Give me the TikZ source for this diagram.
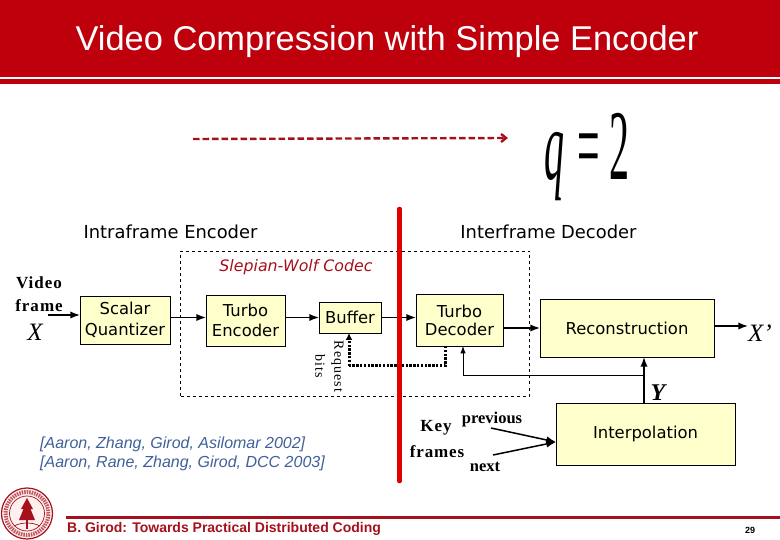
\documentclass[tikz,border=0pt]{standalone}
\usepackage{fontspec}
\setmainfont{Liberation Serif}
\setsansfont{Liberation Sans}
\newfontfamily\boxfont{DejaVu Sans}
\usepackage{xcolor}
\usetikzlibrary{arrows.meta, positioning}
\definecolor{headred}{HTML}{BE000C}
\definecolor{darkred}{HTML}{A5101C}
\definecolor{boxyellow}{HTML}{FFFFCC}
\definecolor{citeblue}{HTML}{40609A}
\newcommand{\fs}[1]{\fontsize{#1}{#1}\selectfont}

\begin{document}
\begin{tikzpicture}[
        x=1pt, y=-1pt,
        >=Latex,
        box/.style={draw, line width=0.9pt, fill=boxyellow, align=center, inner sep=0pt, outer sep=0pt, font=\boxfont\fs{16.4}},
        heading/.style={font=\boxfont\fs{17.9}, inner sep=0pt},
        label/.style={font=\bfseries\fs{17}, inner sep=0pt, align=center},
        mathlabel/.style={font=\bfseries\itshape\fs{24}, inner sep=0pt},
        cite/.style={font=\sffamily\itshape\fs{16}, text=citeblue, inner sep=0pt, anchor=west},
        flow/.style={->, line width=1.5pt},
        request/.style={line width=3pt, dash pattern=on 2.4pt off 1.4pt}
    ]
        \useasboundingbox (0,0) rectangle (780,540);

        % header band
        \fill[headred] (0,0) rectangle (780,77);
        \fill[headred] (0,79.5) rectangle (780,84);
        \node[text=white, font=\sffamily\fs{34.4}, inner sep=0pt] (title) at (387,41.5) {Video Compression with Simple Encoder};

        % slider
        \coordinate (slidestart) at (193,139);
        \coordinate (slideend) at (508,138);
        \draw[->, >={Straight Barb[length=5pt, width=8pt]}, darkred, line width=2.4pt, dash pattern=on 6.5pt off 3pt] (slidestart) -- (slideend);
        \node[anchor=base west, inner sep=0pt, font=\fs{40}] (qval) at (544,180) {\scalebox{1}[2.5]{\textit{q}\hspace{13pt}=\hspace{10pt}2}};

        \node[heading] (intra) at (170.5,232) {Intraframe Encoder};
        \node[heading] (inter) at (548.5,232) {Interframe Decoder};

        % codec frame
        \node[draw, dashed, line width=0.7pt, minimum width=348.5pt, minimum height=145pt, inner sep=0pt] (codec) at (354.75,323.5) {};
        \node[font=\boxfont\itshape\fs{15.8}, text=darkred, inner sep=0pt] (codeclabel) at (296,267) {Slepian-Wolf Codec};

        \node[box, minimum width=90pt, minimum height=48pt] (quant) at (125,320) {Scalar\\[4pt]Quantizer};
        \node[box, minimum width=79pt, minimum height=51pt, right=36pt of quant, yshift=-0.5pt] (enc) {Turbo\\[3pt]Encoder};
        \node[box, minimum width=62pt, minimum height=31pt, right=34pt of enc, yshift=3pt] (buffer) {Buffer};
        \node[box, minimum width=87pt, minimum height=52pt, right=35pt of buffer, yshift=-2.5pt] (dec) {Turbo\\[1.5pt]Decoder};
        \node[box, minimum width=174pt, minimum height=58pt, right=37pt of dec, yshift=-8pt] (recon) {Reconstruction};
        \node[box, minimum width=179pt, minimum height=62pt] (interp) at (645.5,434) {Interpolation};

        \node[label] (video) at (39,294.5) {\addfontfeature{LetterSpace=6}Video\\[6pt]\addfontfeature{LetterSpace=6}frame};
        \node[mathlabel, font=\itshape\fs{25}] (xin) at (35,332) {X};
        \node[mathlabel, font=\itshape\fs{25}] (xout) at (760,333) {X’};
        \node[mathlabel] (ylabel) at (658,393) {Y};
        \node[label] (key) at (436,428) {\addfontfeature{LetterSpace=6}Key};
        \node[label] (frames) at (437,452) {\addfontfeature{LetterSpace=5}frames};
        \node[font=\bfseries\fs{16.5}, inner sep=0pt] (previous) at (492,420) {previous};
        \node[font=\bfseries\fs{16.5}, inner sep=0pt] (next) at (485,467) {next};
        \node[rotate=-90, align=center, inner sep=0pt, font=\fs{14}] (reqbits) at (329.5,366.5) {\addfontfeature{LetterSpace=8}Request\\[5pt]\addfontfeature{LetterSpace=8}bits};

        \coordinate (vin) at (48,315);
        \coordinate (xend) at (748,326);
        \coordinate (reqcorner) at (349,366);
        \coordinate (sidecorner) at (463,376);
        \coordinate (ytee) at (644,376);
        \coordinate (prevstart) at (491,428);
        \coordinate (nextstart) at (493,455);
        \coordinate (interpin) at (556,442);

        \draw[flow] (vin) -- (quant.west |- vin);
        \draw[flow] (quant.east |- buffer) -- (enc.west |- buffer);
        \draw[flow] (enc.east |- buffer) -- (buffer);
        \draw[flow] (buffer) -- (dec.west |- buffer);
        \draw[flow] (dec.east |- recon) -- (recon);
        \draw[flow] (recon.east |- xend) -- (xend);
        \draw[flow] (interp.north -| ytee) -- (recon.south -| ytee);
        \draw[->, line width=1pt] (ytee) -- (sidecorner) -- (dec.south -| sidecorner);
        \draw[flow] (prevstart) -- (interpin);
        \draw[flow] (nextstart) -- (interpin);
        \draw[request] (dec.south -| 445,0) |- (reqcorner);
        \draw[request, -{Latex[length=7pt, width=7pt]}] (reqcorner) -- (buffer.south -| reqcorner);

        % split line
        \draw[red!88!black, line width=4.6pt, line cap=round] (399.5,209) -- (399.5,481);

        \node[cite] (citea) at (40,444) {[Aaron, Zhang, Girod, Asilomar 2002]};
        \node[cite] (citeb) at (40,463.5) {[Aaron, Rane, Zhang, Girod, DCC 2003]};

        % seal
        \draw[darkred, line width=1.2pt, fill=red!6] (27,513.5) circle (25.5pt);
        \draw[darkred!70, line width=4pt, dash pattern=on 1.5pt off 1pt] (27,513.5) circle (21.5pt);
        \draw[darkred, line width=0.7pt, fill=red!6] (27,513.5) circle (17.5pt);
        \fill[darkred] (27,498) -- (33,509) -- (30.5,509) -- (35,520) -- (19,520) -- (23.5,509) -- (21,509) -- cycle;
        \fill[darkred] (25.7,518) rectangle (28.3,529);
        \draw[darkred, line width=0.7pt] (14,526) .. controls (22,522) and (32,522) .. (40,526);

        % footer
        \fill[darkred] (66,515.5) rectangle (780,519);
        \node[anchor=west, inner sep=0pt, text=darkred, font=\sffamily\bfseries\fs{14}] (footer) at (67,528.5) {B. Girod: Towards Practical Distributed Coding};
        \node[font=\sffamily\bfseries\fs{9}, inner sep=0pt] (pagenum) at (750,530) {29};
    \end{tikzpicture}
\end{document}
